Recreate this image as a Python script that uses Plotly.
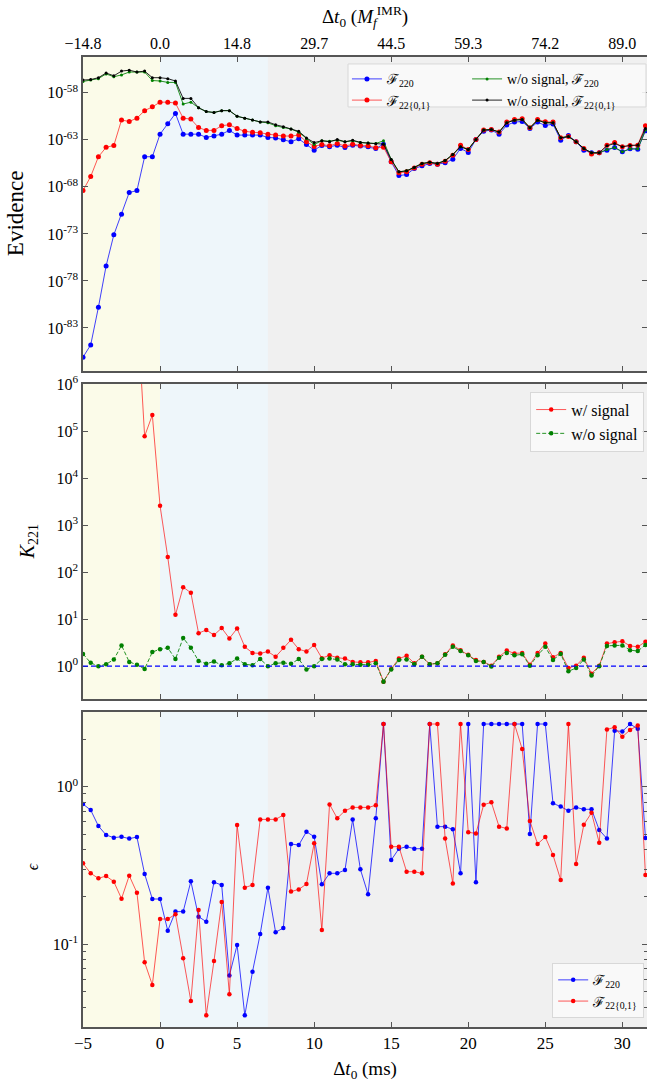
import plotly.graph_objects as go

# ---------------- data ----------------
t_ms = [-5.0, -4.5, -4.0, -3.5, -3.0, -2.5, -2.0, -1.5, -1.0, -0.5,
        0.0, 0.5, 1.0, 1.5, 2.0, 2.5, 3.0, 3.5, 4.0, 4.5,
        5.0, 5.5, 6.0, 6.5, 7.0, 7.5, 8.0, 8.5, 9.0, 9.5,
        10.0, 10.5, 11.0, 11.5, 12.0, 12.5, 13.0, 13.5, 14.0, 14.5,
        15.0, 15.5, 16.0, 16.5, 17.0, 17.5, 18.0, 18.5, 19.0, 19.5,
        20.0, 20.5, 21.0, 21.5, 22.0, 22.5, 23.0, 23.5, 24.0, 24.5,
        25.0, 25.5, 26.0, 26.5, 27.0, 27.5, 28.0, 28.5, 29.0, 29.5,
        30.0, 30.5, 31.0, 31.5]

# log10(Evidence)
ev_220 = [-86.1, -84.8, -80.8, -76.4, -73.1, -70.9, -68.6, -68.4, -64.8, -64.8,
          -62.4, -61.3, -60.2, -62.4, -62.4, -62.4, -62.75, -62.6, -62.4, -62.0,
          -62.5, -62.5, -62.5, -62.5, -62.75, -62.8, -63.0, -63.2, -62.9, -63.5,
          -64.1, -63.6, -63.75, -63.57, -63.82, -63.57, -63.67, -63.75, -63.92, -63.46,
          -65.34, -66.8, -66.7, -66.05, -65.77, -65.52, -65.59, -65.45, -65.06, -63.92,
          -64.35, -62.96, -62.08, -61.97, -62.4, -61.44, -61.12, -61.05, -61.8, -61.12,
          -61.48, -61.33, -63.04, -62.54, -63.21, -64.1, -64.38, -64.38, -64.1, -63.82,
          -64.28, -63.96, -64.0, -62.04]
ev_2201 = [-68.4, -66.9, -64.8, -63.8, -63.6, -60.9, -61.05, -60.7, -59.9, -59.5,
           -59.0, -59.0, -59.1, -60.7, -60.8, -61.7, -62.0, -62.0, -61.5, -61.4,
           -61.8, -62.1, -62.2, -62.25, -62.4, -62.5, -62.6, -62.6, -62.5, -63.2,
           -63.7, -63.5, -63.64, -63.39, -63.67, -63.46, -63.6, -63.64, -63.85, -63.78,
           -65.34, -66.51, -66.4, -66.0, -65.59, -65.45, -65.59, -65.27, -64.63, -63.57,
           -64.03, -62.96, -61.97, -61.9, -62.18, -61.12, -60.84, -60.77, -61.72, -60.84,
           -61.08, -61.12, -62.79, -62.65, -63.21, -63.92, -64.52, -64.38, -63.57, -63.28,
           -63.74, -63.6, -63.57, -61.51]
ev_noise_220 = [-56.8, -56.65, -56.5, -56.0, -56.3, -56.1, -55.8, -55.8, -55.8, -56.7,
                -56.75, -56.9, -56.9, -59.2, -59.0, -59.6, -60.0, -60.1, -59.9, -59.9,
                -60.5, -60.7, -60.9, -61.1, -61.2, -61.5, -61.7, -61.85, -62.2, -62.9,
                -63.5, -63.1, -63.15, -63.04, -63.21, -63.11, -63.28, -63.35, -63.39, -63.11,
                -65.09, -66.4, -66.3, -65.94, -65.52, -65.38, -65.52, -65.2, -64.56, -63.74,
                -64.03, -62.96, -61.97, -61.9, -62.18, -61.19, -60.91, -60.84, -61.72, -60.91,
                -61.19, -61.19, -62.79, -62.65, -63.21, -63.92, -64.38, -64.38, -64.03, -63.82,
                -64.28, -63.96, -63.96, -61.97]
ev_noise_2201 = [-56.65, -56.6, -56.4, -55.9, -56.2, -55.7, -55.6, -55.8, -55.7, -56.4,
                 -56.4, -56.5, -56.75, -58.6, -58.6, -59.6, -60.0, -60.1, -59.9, -59.9,
                 -60.5, -60.7, -60.9, -61.1, -61.1, -61.4, -61.6, -61.85, -62.1, -62.8,
                 -63.3, -63.1, -63.21, -62.96, -63.21, -63.04, -63.28, -63.35, -63.43, -63.46,
                 -65.09, -66.4, -66.3, -65.94, -65.52, -65.38, -65.52, -65.2, -64.56, -63.74,
                 -64.03, -62.96, -61.97, -61.9, -62.18, -61.19, -60.91, -60.84, -61.72, -60.91,
                 -61.19, -61.19, -62.79, -62.65, -63.21, -63.92, -64.38, -64.38, -63.64, -63.39,
                 -63.74, -63.6, -63.57, -61.8]

# log10(K_221)
k_signal = [17.7, 17.9, 16.0, 12.6, 9.5, 10.0, 7.55, 7.7, 4.89, 5.34,
            3.41, 2.32, 1.09, 1.68, 1.56, 0.70, 0.77, 0.66, 0.81, 0.59,
            0.80, 0.41, 0.28, 0.27, 0.31, 0.20, 0.39, 0.56, 0.36, 0.31,
            0.45, 0.17, 0.23, 0.18, 0.16, 0.09, 0.08, 0.08, 0.11, -0.33,
            -0.06, 0.16, 0.22, 0.06, 0.20, 0.04, 0.06, 0.25, 0.44, 0.34,
            0.24, 0.13, 0.09, 0.01, 0.20, 0.33, 0.27, 0.28, 0.03, 0.28,
            0.48, 0.19, 0.28, -0.04, 0.01, 0.18, -0.16, 0.01, 0.48, 0.51,
            0.53, 0.43, 0.41, 0.52]
k_noise = [0.26, 0.07, 0.0, 0.04, 0.14, 0.44, 0.09, 0.03, -0.06, 0.30,
           0.36, 0.39, 0.15, 0.60, 0.39, 0.11, 0.05, 0.10, 0.02, 0.06,
           0.16, 0.04, 0.02, 0.15, 0.0, 0.06, 0.07, 0.05, 0.15, -0.07,
           0.0, 0.15, 0.16, 0.14, 0.04, 0.04, 0.03, 0.03, 0.06, -0.33,
           -0.07, 0.13, 0.14, 0.04, 0.20, 0.04, 0.06, 0.24, 0.41, 0.32,
           0.23, 0.11, 0.09, -0.01, 0.18, 0.28, 0.23, 0.25, 0.01, 0.23,
           0.41, 0.13, 0.26, -0.11, -0.04, 0.14, -0.20, 0.0, 0.43, 0.44,
           0.44, 0.34, 0.32, 0.45]
k_ref = 1.0

# log10(epsilon)
eps_220 = [-0.110, -0.148, -0.249, -0.306, -0.323, -0.317, -0.329, -0.319, -0.553, -0.712,
           -0.712, -0.913, -0.792, -0.792, -0.600, -0.824, -0.856, -0.606, -0.623, -1.198,
           -1.004, -1.450, -1.173, -0.934, -0.640, -0.923, -0.896, -0.363, -0.370, -0.285,
           -0.317, -0.619, -0.549, -0.549, -0.528, -0.207, -0.524, -0.682, -0.200, 0.398,
           -0.465, -0.393, -0.380, -0.393, -0.393, 0.398, -0.253, -0.253, -0.270, -0.549,
           0.398, -0.606, 0.398, 0.398, 0.398, 0.398, 0.398, 0.398, -0.300, 0.398,
           0.398, -0.105, -0.126, -0.152, -0.131, -0.143, -0.143, -0.274, -0.329, 0.355,
           0.351, 0.398, 0.368, -0.325]
eps_2201 = [-0.486, -0.549, -0.581, -0.566, -0.602, -0.710, -0.564, -0.672, -1.114, -1.257,
            -0.839, -0.839, -0.809, -1.088, -1.359, -0.782, -1.450, -1.105, -0.731, -1.317,
            -0.243, -0.640, -0.623, -0.207, -0.207, -0.207, -0.179, -0.665, -0.651, -0.617,
            -0.359, -0.909, -0.112, -0.200, -0.152, -0.131, -0.131, -0.131, -0.118, 0.398,
            -0.380, -0.380, -0.539, -0.539, -0.549, 0.398, 0.398, -0.329, -0.613, 0.398,
            -0.289, -0.296, -0.114, -0.099, -0.253, -0.264, 0.398, 0.239, -0.217, -0.363,
            -0.319, -0.433, -0.591, 0.398, -0.490, -0.241, -0.165, -0.355, 0.364, 0.377,
            0.317, 0.360, 0.389, -0.560]

bottom_ticks = [-5, 0, 5, 10, 15, 20, 25, 30]
top_ticklabels = ["\u221214.8", "0.0", "14.8", "29.7", "44.5", "59.3", "74.2", "89.0"]
ev_tick_exp = [-83, -78, -73, -68, -63, -58]
k_tick_exp = [0, 1, 2, 3, 4, 5, 6]
eps_tick_exp = [-1, 0]

regions = [(-5, 0, "#fbfbe9"), (0, 7, "#eef6fa")]

# ---------------- figure ----------------
FONT = "Liberation Serif"
BLUE = "rgba(0,0,255,0.75)"
RED = "rgba(255,0,0,0.65)"
GREEN = "rgba(0,128,0,0.85)"
BLACK = "rgba(0,0,0,0.85)"
F220 = "\u2131<sub>220</sub>"
F2201 = "\u2131<sub>22{0,1}</sub>"

def p10(arr):
    return [10 ** v for v in arr]

fig = go.Figure()

# panel 1
fig.add_trace(go.Scatter(x=t_ms, y=p10(ev_220), mode="lines+markers", name=F220,
                         line=dict(color=BLUE, width=1), marker=dict(color="blue", size=5),
                         xaxis="x", yaxis="y", legend="legend"))
fig.add_trace(go.Scatter(x=t_ms, y=p10(ev_2201), mode="lines+markers", name=F2201,
                         line=dict(color=RED, width=1), marker=dict(color="red", size=5),
                         xaxis="x", yaxis="y", legend="legend"))
fig.add_trace(go.Scatter(x=t_ms, y=p10(ev_noise_220), mode="lines+markers", name="w/o signal, " + F220,
                         line=dict(color=GREEN, width=1), marker=dict(color="green", size=3),
                         xaxis="x", yaxis="y", legend="legend4"))
fig.add_trace(go.Scatter(x=t_ms, y=p10(ev_noise_2201), mode="lines+markers", name="w/o signal, " + F2201,
                         line=dict(color=BLACK, width=1), marker=dict(color="black", size=3),
                         xaxis="x", yaxis="y", legend="legend4"))
# panel 2
fig.add_trace(go.Scatter(x=t_ms, y=p10(k_signal), mode="lines+markers", name="w/ signal",
                         line=dict(color=RED, width=1), marker=dict(color="red", size=4.5),
                         xaxis="x2", yaxis="y2", legend="legend2"))
fig.add_trace(go.Scatter(x=t_ms, y=p10(k_noise), mode="lines+markers", name="w/o signal",
                         line=dict(color=GREEN, width=1, dash="4px,2px"), marker=dict(color="green", size=4.5),
                         xaxis="x2", yaxis="y2", legend="legend2"))
# panel 3
fig.add_trace(go.Scatter(x=t_ms, y=p10(eps_220), mode="lines+markers", name=F220,
                         line=dict(color=BLUE, width=1), marker=dict(color="blue", size=4.5),
                         xaxis="x3", yaxis="y3", legend="legend3"))
fig.add_trace(go.Scatter(x=t_ms, y=p10(eps_2201), mode="lines+markers", name=F2201,
                         line=dict(color=RED, width=1), marker=dict(color="red", size=4.5),
                         xaxis="x3", yaxis="y3", legend="legend3"))

shapes = []
for xr, yr in [("x", "y domain"), ("x2", "y2 domain"), ("x3", "y3 domain")]:
    for x0, x1, c in regions:
        shapes.append(dict(type="rect", xref=xr, yref=yr, x0=x0, x1=x1, y0=0, y1=1,
                           fillcolor=c, line=dict(width=0), layer="below"))
shapes.append(dict(type="line", xref="x2 domain", yref="y2", x0=0, x1=1, y0=k_ref, y1=k_ref,
                   line=dict(color="blue", width=1.2, dash="5px,3px"), layer="above"))
# frame of the two-column legend in the top panel
shapes.append(dict(type="rect", xref="paper", yref="paper", x0=0.4699, x1=0.9982, y0=0.9485, y1=0.9928,
                   fillcolor="rgba(249,249,249,0.9)", line=dict(color="#d8d8d8", width=1), layer="above"))

LINEC = "#555555"
xcommon = dict(range=[-5, 31.6], showline=True, linecolor=LINEC, linewidth=1.5, mirror="allticks",
               ticks="inside", ticklen=5, tickcolor=LINEC, showgrid=False, zeroline=False,
               tickvals=bottom_ticks, automargin=False, tickfont=dict(size=17))
ycommon = dict(type="log", showline=True, linecolor=LINEC, linewidth=1.5, mirror="allticks",
               ticks="inside", ticklen=5, tickcolor=LINEC, showgrid=False, zeroline=False,
               automargin=False, tickfont=dict(size=16))

def sup(e):
    return "10<sup>" + ("-" + str(-e) if e < 0 else str(e)) + "</sup>"

LEG = dict(xref="paper", yref="paper", bgcolor="rgba(250,250,250,0.85)",
           bordercolor="#d8d8d8", borderwidth=1, itemwidth=30)
LEG_CLEAR = dict(xref="paper", yref="paper", bgcolor="rgba(0,0,0,0)", borderwidth=0, itemwidth=30,
                 tracegroupgap=0)

fig.update_layout(
    width=647, height=1088,
    margin=dict(l=83, r=0, t=57, b=61, autoexpand=False),
    paper_bgcolor="white", plot_bgcolor="#f0f0f0",
    font=dict(family=FONT, size=15, color="black"),
    shapes=shapes,
    xaxis=dict(xcommon, anchor="y", side="top", ticktext=top_ticklabels, tickfont=dict(size=16),
               title=dict(text="\u0394<i>t</i><sub>0</sub> (<i>M</i><sub><i>f</i></sub><sup>IMR</sup>)",
                          font=dict(size=19), standoff=6)),
    xaxis2=dict(xcommon, anchor="y2", matches="x", showticklabels=False),
    xaxis3=dict(xcommon, anchor="y3", matches="x",
                title=dict(text="\u0394<i>t</i><sub>0</sub> (ms)", font=dict(size=19), standoff=10)),
    yaxis=dict(ycommon, domain=[0.6763, 1.0], range=[-87.57, -54.2],
               tickvals=p10(ev_tick_exp), ticktext=[sup(e) for e in ev_tick_exp]),
    yaxis2=dict(ycommon, domain=[0.3381, 0.6629], range=[-0.70, 6.0],
                tickvals=p10(k_tick_exp), ticktext=[sup(e) for e in k_tick_exp]),
    yaxis3=dict(ycommon, domain=[0.0, 0.3247], range=[-1.524, 0.474],
                tickvals=p10(eps_tick_exp), ticktext=[sup(e) for e in eps_tick_exp],
                minor=dict(ticks="inside", ticklen=3, tickcolor=LINEC, dtick="D1", showgrid=False)),
    legend=dict(LEG_CLEAR, x=0.468, y=0.9935, xanchor="left", yanchor="top", font=dict(size=14)),
    legend4=dict(LEG_CLEAR, x=0.681, y=0.9935, xanchor="left", yanchor="top", font=dict(size=14)),
    legend2=dict(LEG, x=0.995, y=0.655, xanchor="right", yanchor="top", font=dict(size=16)),
    legend3=dict(LEG, x=0.995, y=0.009, xanchor="right", yanchor="bottom", font=dict(size=14)),
    annotations=[
        dict(text="Evidence", xref="paper", yref="paper", x=-0.1206, y=0.839, textangle=-90,
             showarrow=False, font=dict(size=23), xanchor="center", yanchor="middle"),
        dict(text="<i>K</i><sub>221</sub>", xref="paper", yref="paper", x=-0.097, y=0.50, textangle=-90,
             showarrow=False, font=dict(size=20), xanchor="center", yanchor="middle"),
        dict(text="<i>\u03f5</i>", xref="paper", yref="paper", x=-0.088, y=0.165, textangle=-90,
             showarrow=False, font=dict(size=16), xanchor="center", yanchor="middle"),
    ],
)

fig.write_html("out.html")
